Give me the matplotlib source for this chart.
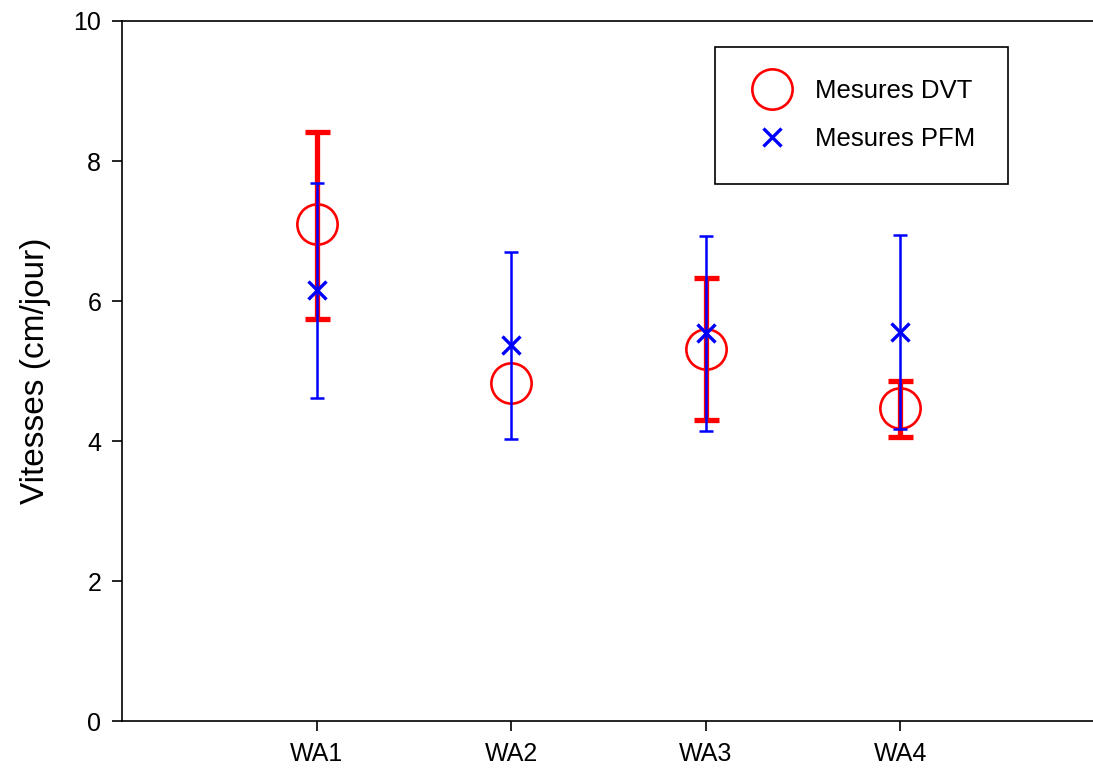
import numpy as np
import matplotlib.pyplot as plt

plt.rcParams['font.family'] = ['Liberation Sans', 'DejaVu Sans']

sites = ['WA1', 'WA2', 'WA3', 'WA4']
x = np.arange(1, 5)

# DVT measurements (red circles), asymmetric error
dvt = [7.10, 4.83, 5.32, 4.47]
dvt_low = [5.74, np.nan, 4.30, 4.06]
dvt_high = [8.41, np.nan, 6.33, 4.86]

# PFM measurements (blue crosses)
pfm = [6.16, 5.37, 5.54, 5.56]
pfm_low = [4.61, 4.03, 4.14, 4.17]
pfm_high = [7.69, 6.70, 6.93, 6.95]

dvt = np.array(dvt)
pfm = np.array(pfm)
dvt_err = np.nan_to_num(np.array([dvt - np.array(dvt_low), np.array(dvt_high) - dvt]))
pfm_err = np.array([pfm - np.array(pfm_low), np.array(pfm_high) - pfm])

fig = plt.figure(figsize=(10.93, 7.72), dpi=100)
ax = fig.add_axes([0.1116, 0.066, 0.89, 0.9068])

# red error bars (skip WA2, which has none)
m = dvt_err.sum(axis=0) > 0
ax.errorbar(x[m], dvt[m], yerr=dvt_err[:, m], fmt='none', ecolor='red',
            elinewidth=3.8, capsize=9, capthick=3.8, zorder=2)
ax.plot(x, dvt, 'o', ms=29, mfc='none', mec='red', mew=1.9, zorder=3,
        label='Mesures DVT')

ax.errorbar(x, pfm, yerr=pfm_err, fmt='none', ecolor='blue',
            elinewidth=1.8, capsize=5, capthick=1.8, zorder=4)
ax.plot(x, pfm, 'x', ms=13, mec='blue', mew=2.4, zorder=5,
        label='Mesures PFM')

ax.set_xlim(0, 5)
ax.set_ylim(0, 10)
ax.set_xticks(x)
ax.set_xticklabels(sites)
ax.set_yticks([0, 2, 4, 6, 8, 10])
ax.tick_params(direction='out', length=7, width=1.2, labelsize=18, pad=8)
ax.set_ylabel('Vitesses (cm/jour)', fontsize=24, labelpad=16)
for s in ax.spines.values():
    s.set_linewidth(1.2)
ax.spines['right'].set_visible(False)

leg = ax.legend(loc='upper left', bbox_to_anchor=(0.6097, 0.963), fontsize=18.5,
                frameon=True, fancybox=False, edgecolor='black',
                borderaxespad=0, borderpad=1.25, labelspacing=0.95,
                handletextpad=0.75, handlelength=1.9, markerscale=1.0,
                numpoints=1)
leg.get_frame().set_linewidth(1.2)
leg.get_frame().set_alpha(1)

fig.savefig('out.png', dpi=100)
